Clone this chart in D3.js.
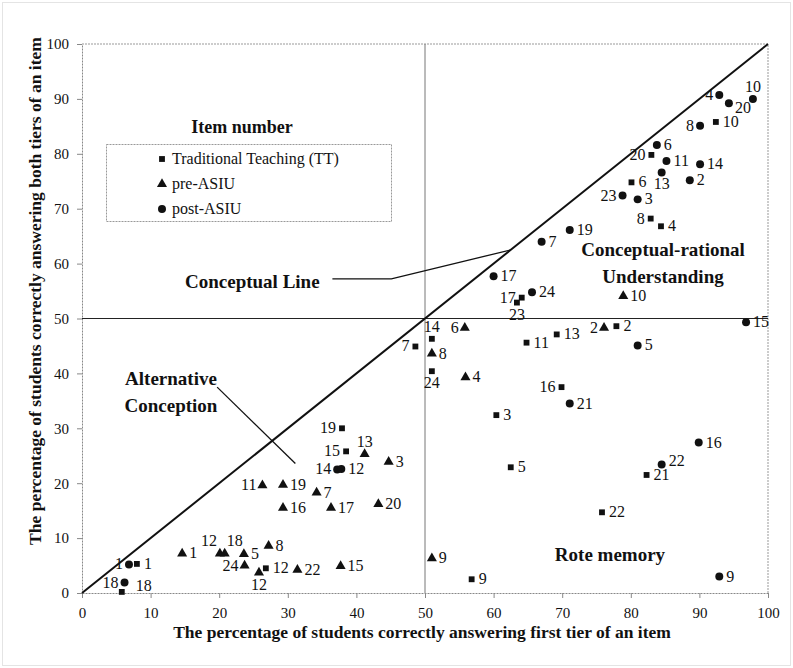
<!DOCTYPE html>
<html>
<head>
<meta charset="utf-8">
<script src="https://cdn.jsdelivr.net/npm/d3@7"></script>
<style>
  body { margin: 0; background: #fff; }
  text { font-family: "Liberation Serif", "Times New Roman", serif; fill: #111; }
</style>
</head>
<body>
<div class="chart"></div>
<script>
// item numbers, first tier %, both tiers %
var tt_items = [1, 18, 12, 19, 15, 24, 14, 7, 11, 13, 2, 16, 3, 5, 21, 22, 9, 17, 23, 6, 8, 4, 20, 10]
var tt_first = [8.0, 5.8, 26.8, 37.9, 38.5, 51.0, 51.0, 48.6, 64.8, 69.2, 77.9, 69.9, 60.4, 62.5, 82.3, 75.8, 56.8, 64.1, 63.4, 80.1, 82.9, 84.4, 83.0, 92.4]
var tt_both  = [5.3, 0.2, 4.5, 30.0, 25.8, 40.4, 46.3, 44.9, 45.6, 47.1, 48.6, 37.5, 32.4, 22.9, 21.5, 14.7, 2.5, 53.8, 52.9, 74.8, 68.2, 66.8, 79.8, 85.8]

var pre_items = [1, 12, 18, 5, 24, 12, 8, 11, 19, 16, 7, 17, 13, 3, 20, 22, 15, 9, 8, 6, 4, 2, 10]
var pre_first = [14.6, 20.1, 20.8, 23.6, 23.7, 25.8, 27.2, 26.3, 29.3, 29.3, 34.2, 36.3, 41.2, 44.7, 43.2, 31.4, 37.7, 51.0, 51.0, 55.8, 55.9, 76.1, 78.9]
var pre_both  = [7.2, 7.2, 7.2, 7.1, 5.0, 3.7, 8.6, 19.6, 19.7, 15.5, 18.3, 15.5, 25.3, 23.9, 16.2, 4.2, 4.9, 6.3, 43.6, 48.3, 39.3, 48.3, 54.1]

var post_items = [1, 18, 14, 12, 21, 5, 15, 16, 22, 9, 17, 24, 7, 19, 23, 3, 2, 13, 11, 14, 6, 8, 4, 20, 10]
var post_first = [6.85, 6.2, 37.2, 37.8, 71.1, 81.0, 96.8, 89.9, 84.5, 92.9, 60.0, 65.6, 67.0, 71.1, 78.8, 81.0, 88.6, 84.5, 85.2, 90.1, 83.8, 90.1, 92.9, 94.3, 97.8]
var post_both  = [5.2, 1.9, 22.5, 22.6, 34.5, 45.1, 49.3, 27.4, 23.4, 3.0, 57.7, 54.8, 64.0, 66.1, 72.4, 71.7, 75.2, 76.6, 78.7, 78.1, 81.6, 85.1, 90.7, 89.2, 90.0]

var x_ticks = [0, 10, 20, 30, 40, 50, 60, 70, 80, 90, 100]
var y_ticks = [0, 10, 20, 30, 40, 50, 60, 70, 80, 90, 100]

var legend_names = ["Traditional Teaching (TT)", "pre-ASIU", "post-ASIU"]

// where each item label sits relative to its marker (r/l/a/b, al/ar)
var tt_label_side   = ["r", "rr", "r", "l", "l", "b", "a", "l", "r", "r", "r", "l", "r", "r", "r", "r", "r", "l", "b", "r", "l", "r", "l", "r"]
var pre_label_side  = ["r", "al", "ar", "r", "l", "b", "r", "l", "r", "r", "r", "r", "a", "r", "r", "r", "r", "r", "r", "l", "r", "l", "r"]
var post_label_side = ["l", "l", "l", "r", "r", "r", "r", "r", "ru", "r", "r", "r", "r", "r", "l", "r", "r", "b", "r", "r", "r", "l", "l", "rd", "a"]

var width = 793, height = 668
var margin = {top: 44, right: 25, bottom: 75, left: 82}
var w = width - margin.left - margin.right
var h = height - margin.top - margin.bottom

var xScale = d3.scaleLinear().domain([0, 100]).range([0, w])
var yScale = d3.scaleLinear().domain([0, 100]).range([h, 0])

var svg = d3.select(".chart").append("svg")
    .attr("width", width)
    .attr("height", height)

svg.append("rect")
    .attr("x", 2.5).attr("y", 2.5)
    .attr("width", width - 5).attr("height", height - 5)
    .attr("fill", "none")
    .attr("stroke", "#c8c8c8")
    .attr("stroke-dasharray", "1,1")

var g = svg.append("g")
    .attr("transform", "translate(" + margin.left + "," + margin.top + ")")

// frame (top, right)
g.append("path")
    .attr("d", "M0,0H" + w + "V" + h)
    .attr("fill", "none")
    .attr("stroke", "#999")
    .attr("stroke-dasharray", "2,1")

var xAxis = d3.axisBottom(xScale).tickValues(x_ticks).tickSize(5).tickSizeOuter(0).tickPadding(9)
var yAxis = d3.axisLeft(yScale).tickValues(y_ticks).tickSize(5).tickSizeOuter(0).tickPadding(8)

var gx = g.append("g")
    .attr("transform", "translate(0," + h + ")")
    .call(xAxis)
var gy = g.append("g").call(yAxis)

;[gx, gy].forEach(a => {
    a.select(".domain").attr("stroke", "#888").attr("stroke-dasharray", "2,1")
    a.selectAll(".tick line").attr("stroke", "#888")
    a.selectAll(".tick text")
        .style("font-family", "'Liberation Serif', serif")
        .style("font-size", "15px")
        .attr("fill", "#222")
})

// quadrant lines
g.append("line")
    .attr("x1", xScale(50)).attr("x2", xScale(50))
    .attr("y1", yScale(0)).attr("y2", yScale(100))
    .attr("stroke", "#777").attr("stroke-width", 1)
g.append("line")
    .attr("x1", xScale(0)).attr("x2", xScale(100))
    .attr("y1", yScale(50)).attr("y2", yScale(50))
    .attr("stroke", "#222").attr("stroke-width", 1.2)

// conceptual line (diagonal)
g.append("line")
    .attr("x1", xScale(0)).attr("y1", yScale(0))
    .attr("x2", xScale(100)).attr("y2", yScale(100))
    .attr("stroke", "#111").attr("stroke-width", 2)

// annotations with pointers
g.append("polyline")
    .attr("points", [[xScale(36.5), yScale(57.2)], [xScale(45.1), yScale(57.2)], [xScale(62.5), yScale(62.5)]].join(" "))
    .attr("fill", "none").attr("stroke", "#111").attr("stroke-width", 1.3)
g.append("line")
    .attr("x1", xScale(19.7)).attr("y1", yScale(37.5))
    .attr("x2", xScale(31.1)).attr("y2", yScale(23.6))
    .attr("stroke", "#111").attr("stroke-width", 1.3)

function boldText(x, y, t, anchor) {
    svg.append("text")
        .attr("x", x).attr("y", y)
        .attr("text-anchor", anchor || "start")
        .style("font-size", "19px")
        .style("font-weight", "bold")
        .text(t)
}
boldText(185, 288, "Conceptual Line")
boldText(171, 385, "Alternative", "middle")
boldText(171, 412, "Conception", "middle")
boldText(663, 256, "Conceptual-rational", "middle")
boldText(663, 283, "Understanding", "middle")
boldText(610, 561, "Rote memory", "middle")

// markers
var symSquare = d3.symbol().type(d3.symbolSquare).size(34)
var symTri = d3.symbol().type(d3.symbolTriangle).size(44)
var symCircle = d3.symbol().type(d3.symbolCircle).size(50)

function makeSeries(items, xs, ys, sides) {
    return items.map((it, i) => ({item: it, x: xs[i], y: ys[i], side: sides[i]}))
}

var series = [
    {data: makeSeries(tt_items, tt_first, tt_both, tt_label_side), sym: symSquare},
    {data: makeSeries(pre_items, pre_first, pre_both, pre_label_side), sym: symTri},
    {data: makeSeries(post_items, post_first, post_both, post_label_side), sym: symCircle}
]

var labelOffset = {
    r: [7, 5, "start"], rr: [14, -1, "start"], ru: [7, 1, "start"], rd: [6, 10, "start"],
    l: [-6, 5, "end"], a: [0, -7, "middle"], b: [0, 17, "middle"],
    al: [-3, -7, "end"], ar: [2, -7, "start"]
}

series.forEach(s => {
    g.selectAll(null)
        .data(s.data)
        .enter().append("path")
        .attr("d", s.sym)
        .attr("transform", d => "translate(" + xScale(d.x) + "," + yScale(d.y) + ")")
        .attr("fill", "#111")

    g.selectAll(null)
        .data(s.data)
        .enter().append("text")
        .attr("x", d => xScale(d.x) + labelOffset[d.side][0])
        .attr("y", d => yScale(d.y) + labelOffset[d.side][1])
        .attr("text-anchor", d => labelOffset[d.side][2])
        .style("font-size", "16px")
        .text(d => d.item)
})

// legend
var lg = svg.append("g")
lg.append("text")
    .attr("x", 242).attr("y", 133)
    .attr("text-anchor", "middle")
    .style("font-size", "18px").style("font-weight", "bold")
    .text("Item number")
lg.append("rect")
    .attr("x", 106.5).attr("y", 144.5)
    .attr("width", 285).attr("height", 77)
    .attr("fill", "#fff")
    .attr("stroke", "#999").attr("stroke-dasharray", "2,1")
var legendSyms = [symSquare, symTri, symCircle]
legend_names.forEach((n, i) => {
    lg.append("path")
        .attr("d", legendSyms[i])
        .attr("transform", "translate(162," + (159 + i * 25) + ")")
        .attr("fill", "#111")
    lg.append("text")
        .attr("x", 172).attr("y", 159 + i * 25 + 5)
        .style("font-size", "16px")
        .text(n)
})

// axis titles
svg.append("text")
    .attr("x", 422).attr("y", 638)
    .attr("text-anchor", "middle")
    .style("font-size", "17.5px").style("font-weight", "bold")
    .text("The percentage of students correctly answering first tier of an item")
svg.append("text")
    .attr("transform", "translate(41,291) rotate(-90)")
    .attr("text-anchor", "middle")
    .style("font-size", "17.5px").style("font-weight", "bold")
    .text("The percentage of students correctly answering both tiers of an item")
</script>
</body>
</html>
